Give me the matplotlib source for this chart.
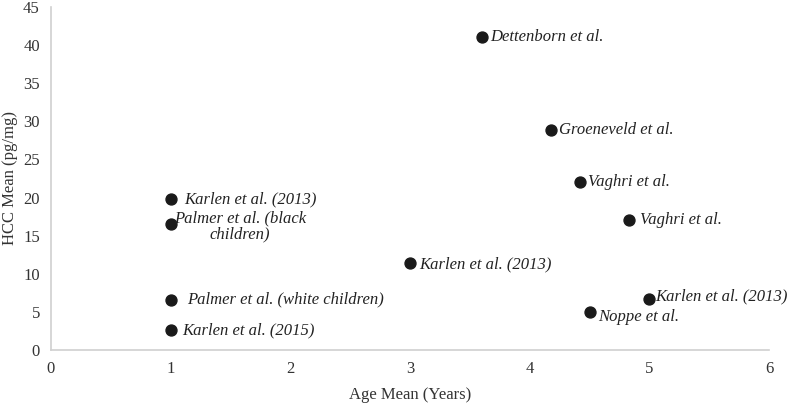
import matplotlib.pyplot as plt

plt.rcParams["font.family"] = ["Liberation Serif", "DejaVu Serif"]

# study summary: mean age vs mean hair cortisol
studies = [
    "Dettenborn et al.",
    "Groeneveld et al.",
    "Vaghri et al.",
    "Vaghri et al.",
    "Karlen et al. (2013)",
    "Palmer et al. (black\nchildren)",
    "Karlen et al. (2013)",
    "Palmer et al. (white children)",
    "Karlen et al. (2015)",
    "Karlen et al. (2013)",
    "Noppe et al.",
]
age_mean = [3.6, 4.18, 4.42, 4.83, 1.0, 1.0, 3.0, 1.0, 1.0, 5.0, 4.5]
hcc_mean = [41.0, 28.9, 22.0, 17.1, 19.8, 16.5, 11.4, 6.6, 2.6, 6.7, 5.0]

# label placement (pixel offsets from the point, alignment)
label_pos = [
    (8, 0, "left"),
    (8, 0, "left"),
    (8, 0, "left"),
    (11, 0, "left"),
    (14, 0, "left"),
    (69, -2, "center"),
    (9, -1, "left"),
    (16, 0, "left"),
    (12, 0, "left"),
    (6, 3, "left"),
    (9, -5, "left"),
]

fig = plt.figure(figsize=(7.88, 4.04), dpi=100)
ax = fig.add_axes([0.0647, 0.1337, 0.9113, 0.849])

ax.scatter(age_mean, hcc_mean, s=62, color="#1a1a1a", zorder=3)
for name, x, y, (dx, dy, ha) in zip(studies, age_mean, hcc_mean, label_pos):
    ax.annotate(name, (x, y), xytext=(dx, dy), textcoords="offset pixels",
                ha=ha, va="center", fontsize=12, style="italic",
                color="#222222", linespacing=1.0, annotation_clip=False)

ax.set_xlim(0, 6)
ax.set_ylim(0, 45)
ax.set_xticks(range(0, 7))
ax.set_yticks(range(0, 46, 5))
ax.tick_params(length=0, labelsize=12, colors="#333333", pad=8)
ax.tick_params(axis="x", pad=8)
for side in ["top", "right"]:
    ax.spines[side].set_visible(False)
for side in ["left", "bottom"]:
    ax.spines[side].set_color("#d0d0d0")
    ax.spines[side].set_linewidth(1.2)

ax.set_xlabel("Age Mean (Years)", fontsize=12, color="#333333", labelpad=7)
ax.set_ylabel("HCC Mean (pg/mg)", fontsize=12, color="#333333", labelpad=4)

fig.savefig("out.png", dpi=100)
